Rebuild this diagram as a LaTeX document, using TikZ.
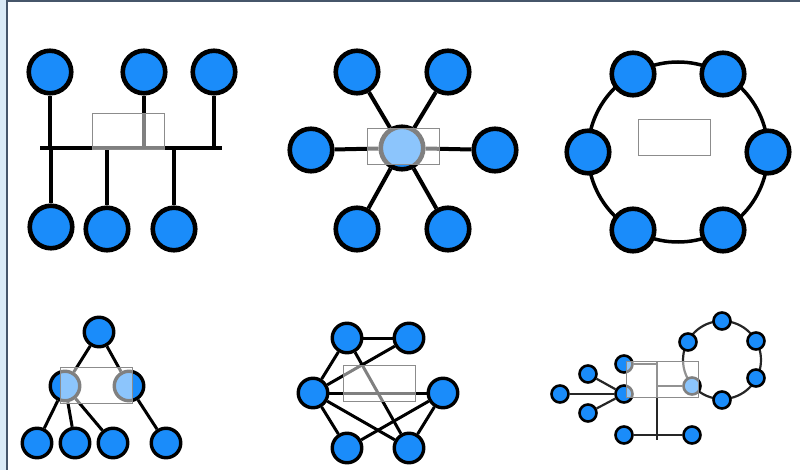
\documentclass[tikz,border=0pt]{standalone}
\usepackage{tikz}
\usetikzlibrary{calc}
\definecolor{hostBlue}{HTML}{1A8CFA}
\definecolor{frameGray}{HTML}{46566A}
\definecolor{frameBlue}{HTML}{DAEAF6}
\definecolor{boxGray}{HTML}{8C8C8C}
\tikzset{
  host/.style={circle, draw=black, fill=hostBlue, line width=4.6pt,
    minimum size=42.5pt, inner sep=0pt},
  small host/.style={host, line width=3.4pt, minimum size=29.5pt},
  tiny host/.style={host, line width=2.6pt, minimum size=17pt},
  link/.style={draw=black, line width=4pt},
  thin link/.style={draw=black, line width=3pt},
  tiny link/.style={draw=black!85, line width=2.2pt},
  glass box/.style={draw=boxGray, line width=0.9pt, fill=white,
    fill opacity=0.5, minimum width=72pt, minimum height=36pt,
    inner sep=0pt}
}
\begin{document}
\begin{tikzpicture}[x=1pt, y=-1pt]
  \useasboundingbox (0,0) rectangle (800,470);
  % frame
  \fill[frameBlue] (0,0) rectangle (7,470);
  \draw[frameGray, line width=1.2pt] (7,470) -- (7,1) -- (800,1);

  % bus
  \coordinate (busW) at (40,148);
  \coordinate (busE) at (222,148);
  \node[host] (bus1) at (50,72) {};
  \node[host] (bus2) at (144,72) {};
  \node[host] (bus3) at (214,72) {};
  \node[host] (bus4) at (51,227) {};
  \node[host] (bus5) at (107,229) {};
  \node[host] (bus6) at (174,229) {};
  \draw[link] (busW) -- (busE);
  \draw[link] (bus1) -- (bus1 |- busW); \draw[link] (bus2) -- (bus2 |- busW);
  \draw[link] (bus3) -- (bus3 |- busW); \draw[link] (bus4) -- (bus4 |- busW);
  \draw[link] (bus5) -- (bus5 |- busW); \draw[link] (bus6) -- (bus6 |- busW);

  % star
  \node[host] (hub) at (402,148) {};
  \node[host] (star1) at (357,72) {};
  \node[host] (star2) at (448,72) {};
  \node[host] (star3) at (311,150) {};
  \node[host] (star4) at (495,150) {};
  \node[host] (star5) at (357,229) {};
  \node[host] (star6) at (448,229) {};
  \draw[link] (hub) -- (star1); \draw[link] (hub) -- (star2);
  \draw[link] (hub) -- (star3); \draw[link] (hub) -- (star4);
  \draw[link] (hub) -- (star5); \draw[link] (hub) -- (star6);

  % ring
  \draw[link, line width=3.5pt] (678,152) circle[radius=90pt];
  \node[host] (ring1) at (633,74) {};
  \node[host] (ring2) at (723,74) {};
  \node[host] (ring3) at (768,152) {};
  \node[host] (ring4) at (723,230) {};
  \node[host] (ring5) at (633,230) {};
  \node[host] (ring6) at (588,152) {};

  % tree
  \node[small host] (root) at (99,332) {};
  \node[small host] (treeL) at (65,386) {};
  \node[small host] (treeR) at (129,386) {};
  \node[small host] (leaf1) at (37,443) {};
  \node[small host] (leaf2) at (75,443) {};
  \node[small host] (leaf3) at (113,443) {};
  \node[small host] (leaf4) at (166,443) {};
  \draw[thin link] (root) -- (treeL); \draw[thin link] (root) -- (treeR);
  \draw[thin link] (treeL) -- (leaf1); \draw[thin link] (treeL) -- (leaf2);
  \draw[thin link] (treeL) -- (leaf3); \draw[thin link] (treeR) -- (leaf4);

  % mesh
  \node[small host] (meshA) at (347,338) {};
  \node[small host] (meshB) at (409,338) {};
  \node[small host] (meshC) at (313,393) {};
  \node[small host] (meshD) at (443,393) {};
  \node[small host] (meshE) at (347,448) {};
  \node[small host] (meshF) at (409,448) {};
  \draw[thin link] (meshA) -- (meshB); \draw[thin link] (meshA) -- (meshC);
  \draw[thin link] (meshC) -- (meshB); \draw[thin link] (meshA) -- (meshF);
  \draw[thin link] (meshC) -- (meshD); \draw[thin link] (meshC) -- (meshE);
  \draw[thin link] (meshC) -- (meshF); \draw[thin link] (meshE) -- (meshD);
  \draw[thin link] (meshD) -- (meshF);

  % hybrid
  \draw[tiny link] (722,360) circle[radius=39pt];
  \node[tiny host] (hyb1) at (560,394) {};
  \node[tiny host] (hyb2) at (588,374) {};
  \node[tiny host] (hyb3) at (588,413) {};
  \node[tiny host] (hybHub) at (624,394) {};
  \node[tiny host] (hybTop) at (624,364) {};
  \node[tiny host] (hybBL) at (624,435) {};
  \node[tiny host] (hybBR) at (692,435) {};
  \node[tiny host] (hybR1) at (688,342) {};
  \node[tiny host] (hybR2) at (722,321) {};
  \node[tiny host] (hybR3) at (756,341) {};
  \node[tiny host] (hybR4) at (756,378) {};
  \node[tiny host] (hybR5) at (722,400) {};
  \node[tiny host] (hybR6) at (692,386) {};
  \coordinate (hbusN) at (657,361);
  \coordinate (hbusS) at (657,440);
  \draw[tiny link] (hyb1) -- (hybHub); \draw[tiny link] (hyb2) -- (hybHub);
  \draw[tiny link] (hyb3) -- (hybHub);
  \draw[tiny link] (hbusN) -- (hbusS);
  \draw[tiny link] (hybTop) -- (hybTop -| hbusN);
  \draw[tiny link] (hybR6) -- (hybR6 -| hbusN);
  \draw[tiny link] (hybBL) -- (hybBR);

  % glass boxes
  \node[glass box] (glass1) at (128,131.5) {};
  \node[glass box] (glass2) at (403.5,146) {};
  \node[glass box] (glass3) at (674,137.5) {};
  \node[glass box] (glass4) at (96,385) {};
  \node[glass box] (glass5) at (379.5,383) {};
  \node[glass box] (glass6) at (662,379) {};
\end{tikzpicture}
\end{document}
